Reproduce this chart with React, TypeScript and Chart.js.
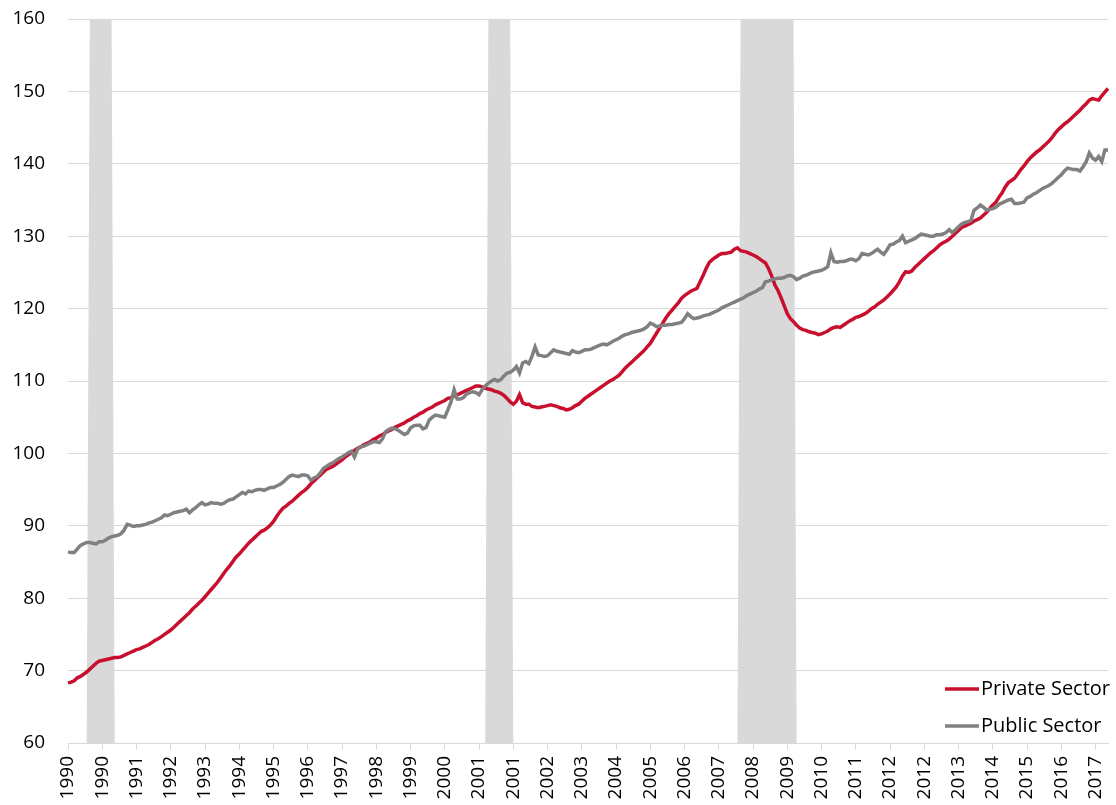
import React, { useEffect, useRef } from "react";
import { Chart, registerables } from "chart.js";

Chart.register(...registerables);

// Monthly index values, Jan 1990 – Nov 2017 (one row per year)
const privateSector = [
  68.3, 68.4, 68.6, 69.0, 69.2, 69.5, 69.8, 70.2, 70.6, 71.0, 71.3, 71.4,
  71.5, 71.6, 71.7, 71.8, 71.8, 71.9, 72.1, 72.3, 72.5, 72.7, 72.9, 73.0,
  73.2, 73.4, 73.6, 73.9, 74.2, 74.4, 74.7, 75.0, 75.3, 75.6, 76.0, 76.4,
  76.8, 77.2, 77.6, 78.0, 78.5, 78.9, 79.3, 79.7, 80.2, 80.7, 81.2, 81.7,
  82.2, 82.8, 83.4, 84.0, 84.5, 85.1, 85.7, 86.1, 86.6, 87.1, 87.6, 88.0,
  88.4, 88.8, 89.2, 89.4, 89.7, 90.1, 90.6, 91.3, 91.9, 92.4, 92.7, 93.1,
  93.4, 93.8, 94.2, 94.6, 94.9, 95.3, 95.8, 96.2, 96.6, 97.0, 97.4, 97.8,
  98.0, 98.2, 98.5, 98.8, 99.1, 99.5, 99.8, 100.1, 100.4, 100.7, 100.9, 101.2,
  101.4, 101.6, 101.9, 102.1, 102.4, 102.6, 102.9, 103.1, 103.3, 103.6, 103.8, 104.0,
  104.2, 104.5, 104.7, 105.0, 105.2, 105.5, 105.7, 106.0, 106.2, 106.4, 106.7, 106.9,
  107.1, 107.3, 107.6, 107.7, 107.9, 108.1, 108.3, 108.5, 108.7, 108.9, 109.1, 109.3,
  109.3, 109.2, 109.0, 108.9, 108.8, 108.6, 108.5, 108.3, 108.0, 107.6, 107.1, 106.8,
  107.2, 108.1, 107.0, 106.8, 106.8, 106.5, 106.4, 106.3, 106.4, 106.5, 106.6, 106.7,
  106.6, 106.5, 106.3, 106.2, 106.0, 106.1, 106.3, 106.6, 106.8, 107.2, 107.6, 107.9,
  108.2, 108.5, 108.8, 109.1, 109.4, 109.7, 110.0, 110.2, 110.5, 110.8, 111.3, 111.8,
  112.2, 112.6, 113.0, 113.4, 113.8, 114.2, 114.7, 115.2, 115.9, 116.6, 117.3, 118.0,
  118.7, 119.3, 119.8, 120.3, 120.8, 121.4, 121.8, 122.1, 122.4, 122.6, 122.8, 123.7,
  124.6, 125.6, 126.4, 126.8, 127.1, 127.4, 127.6, 127.6, 127.7, 127.8, 128.2, 128.4,
  128.0, 127.9, 127.8, 127.6, 127.4, 127.2, 126.9, 126.6, 126.3, 125.5, 124.5, 123.3,
  122.5, 121.5, 120.4, 119.3, 118.6, 118.2, 117.7, 117.3, 117.1, 117.0, 116.8, 116.7,
  116.6, 116.4, 116.5, 116.7, 116.9, 117.2, 117.4, 117.5, 117.4, 117.7, 118.0, 118.3,
  118.5, 118.8, 118.9, 119.1, 119.3, 119.6, 120.0, 120.2, 120.6, 120.9, 121.2, 121.6,
  122.0, 122.5, 123.0, 123.7, 124.5, 125.1, 125.0, 125.2, 125.7, 126.1, 126.5, 126.9,
  127.3, 127.7, 128.0, 128.4, 128.8, 129.1, 129.3, 129.6, 130.0, 130.4, 130.8, 131.2,
  131.4, 131.6, 131.8, 132.1, 132.3, 132.5, 132.9, 133.3, 133.8, 134.3, 134.7, 135.4,
  136.0, 136.8, 137.4, 137.7, 138.0, 138.6, 139.2, 139.7, 140.3, 140.8, 141.2, 141.6,
  141.9, 142.3, 142.7, 143.1, 143.6, 144.2, 144.7, 145.1, 145.5, 145.8, 146.2, 146.6,
  147.0, 147.4, 147.9, 148.3, 148.8, 149.0, 148.9, 148.8, 149.4, 149.9, 150.4,
];

const publicSector = [
  86.4, 86.3, 86.3, 86.8, 87.3, 87.5, 87.7, 87.7, 87.6, 87.5, 87.8, 87.8,
  88.0, 88.3, 88.5, 88.6, 88.7, 88.9, 89.4, 90.2, 90.1, 89.9, 90.0, 90.0,
  90.1, 90.2, 90.4, 90.5, 90.7, 90.9, 91.1, 91.5, 91.4, 91.6, 91.8, 91.9,
  92.0, 92.1, 92.3, 91.8, 92.2, 92.5, 92.9, 93.2, 92.9, 93.0, 93.2, 93.1,
  93.1, 93.0, 93.1, 93.4, 93.6, 93.7, 94.0, 94.3, 94.6, 94.4, 94.8, 94.7,
  94.9, 95.0, 95.0, 94.9, 95.1, 95.3, 95.3, 95.5, 95.7, 96.0, 96.4, 96.8,
  97.0, 96.9, 96.8, 97.0, 97.0, 96.9, 96.3, 96.6, 96.8, 97.3, 97.9, 98.2,
  98.5, 98.7, 99.0, 99.3, 99.5, 99.8, 100.1, 100.3, 99.5, 100.6, 100.9, 101.0,
  101.2, 101.4, 101.6, 101.6, 101.5, 102.0, 103.0, 103.3, 103.5, 103.4, 103.2, 102.9,
  102.6, 102.8, 103.5, 103.8, 103.9, 103.9, 103.4, 103.6, 104.6, 105.0, 105.3, 105.2,
  105.1, 105.0, 106.0, 107.1, 108.8, 107.5, 107.5, 107.7, 108.2, 108.4, 108.5, 108.4,
  108.1, 108.8, 109.3, 109.7, 110.0, 110.2, 110.0, 110.2, 110.7, 111.1, 111.2, 111.5,
  112.0, 111.1, 112.5, 112.7, 112.4, 113.4, 114.7, 113.6, 113.5, 113.4, 113.5, 113.9,
  114.3, 114.1, 114.0, 113.9, 113.8, 113.7, 114.2, 114.0, 113.9, 114.1, 114.3, 114.3,
  114.4, 114.6, 114.8, 115.0, 115.1, 115.0, 115.2, 115.5, 115.7, 115.9, 116.2, 116.4,
  116.5, 116.7, 116.8, 116.9, 117.0, 117.2, 117.5, 118.0, 117.8, 117.5, 117.6, 117.7,
  117.7, 117.8, 117.8, 117.9, 118.0, 118.1, 118.6, 119.3, 118.9, 118.6, 118.7, 118.8,
  119.0, 119.1, 119.2, 119.4, 119.6, 119.8, 120.1, 120.3, 120.5, 120.7, 120.9, 121.1,
  121.3, 121.5, 121.8, 122.0, 122.2, 122.4, 122.7, 122.9, 123.7, 123.8, 124.0, 124.1,
  124.2, 124.2, 124.3, 124.5, 124.6, 124.4, 124.0, 124.2, 124.5, 124.6, 124.8, 125.0,
  125.1, 125.2, 125.3, 125.5, 125.8, 127.7, 126.5, 126.4, 126.5, 126.5, 126.6, 126.8,
  126.8, 126.6, 126.9, 127.6, 127.5, 127.4, 127.6, 127.9, 128.2, 127.8, 127.5, 128.1,
  128.8, 128.9, 129.2, 129.4, 130.0, 129.1, 129.3, 129.5, 129.7, 130.0, 130.3, 130.2,
  130.1, 130.0, 130.0, 130.2, 130.2, 130.3, 130.5, 130.9, 130.5, 130.9, 131.3, 131.7,
  131.9, 132.0, 132.2, 133.6, 133.9, 134.3, 134.0, 133.6, 133.7, 133.8, 134.0, 134.4,
  134.6, 134.8, 135.0, 135.1, 134.5, 134.5, 134.6, 134.7, 135.3, 135.5, 135.8, 136.0,
  136.3, 136.6, 136.8, 137.0, 137.3, 137.7, 138.1, 138.5, 139.0, 139.4, 139.3, 139.2,
  139.2, 139.0, 139.6, 140.3, 141.5, 140.8, 140.5, 141.0, 140.3, 141.9, 141.9,
];

// Recession periods (first and last shaded month)
const recessions: [string, string][] = [
  ["1990-08", "1991-03"],
  ["2001-04", "2001-11"],
  ["2008-01", "2009-06"],
];

const startYear = 1990;
const monthLabels = privateSector.map(
  (_, i) => `${startYear + Math.floor(i / 12)}-${String((i % 12) + 1).padStart(2, "0")}`
);
const labelEvery = 11;

const yMin = 60;
const yMax = 160;

const RED = "#C8102E";
const GRAY = "#808080";
const FONT = "'Open Sans', sans-serif";

const seriesNames = ["Private Sector", "Public Sector"];

export default function App() {
  const ref = useRef<HTMLCanvasElement | null>(null);

  useEffect(() => {
    if (!ref.current) return;
    const band = monthLabels.map((m) =>
      recessions.some(([a, b]) => m >= a && m <= b) ? yMax : yMin
    );

    const legendPlugin = {
      id: "cornerLegend",
      afterDraw(chart: any) {
        const ctx = chart.ctx;
        const items = [
          { name: seriesNames[0], color: RED, y: 689 },
          { name: seriesNames[1], color: GRAY, y: 726 },
        ];
        ctx.save();
        ctx.font = `20px ${FONT}`;
        ctx.textBaseline = "middle";
        ctx.textAlign = "left";
        items.forEach((it) => {
          ctx.strokeStyle = it.color;
          ctx.lineWidth = 3.5;
          ctx.beginPath();
          ctx.moveTo(945, it.y);
          ctx.lineTo(979, it.y);
          ctx.stroke();
          ctx.fillStyle = "#000";
          ctx.fillText(it.name, 981, it.y);
        });
        ctx.restore();
      },
    };

    const chart = new Chart(ref.current, {
      type: "line",
      data: {
        labels: monthLabels,
        datasets: [
          {
            label: seriesNames[1],
            data: publicSector,
            borderColor: GRAY,
            borderWidth: 3.5,
            pointRadius: 0,
            tension: 0,
            fill: false,
          },
          {
            label: seriesNames[0],
            data: privateSector,
            borderColor: RED,
            borderWidth: 3.5,
            pointRadius: 0,
            tension: 0,
            fill: false,
          },
          {
            label: "Recession",
            data: band,
            borderWidth: 0,
            borderColor: "rgba(0,0,0,0)",
            backgroundColor: "#d9d9d9",
            pointRadius: 0,
            tension: 0,
            fill: "start",
          },
        ],
      },
      options: {
        animation: false,
        responsive: true,
        maintainAspectRatio: false,
        layout: { padding: { top: 19, right: 8, bottom: 0, left: 0 } },
        plugins: {
          legend: { display: false },
          tooltip: { enabled: false },
        },
        scales: {
          x: {
            type: "category",
            grid: {
              drawOnChartArea: false,
              drawTicks: true,
              tickLength: 7,
              color: "#d9d9d9",
            },
            border: { display: true, color: "#d9d9d9" },
            ticks: {
              autoSkip: false,
              maxRotation: 90,
              minRotation: 90,
              padding: 6,
              color: "#000",
              font: { family: FONT, size: 19 },
              callback: (_v: any, i: number) =>
                i % labelEvery === 0 ? monthLabels[i].slice(0, 4) : null,
            },
            afterFit: (s: any) => {
              s.height = 62;
              s.paddingLeft = 0;
              s.paddingRight = 0;
            },
          },
          y: {
            min: yMin,
            max: yMax,
            grid: { color: "#d9d9d9", drawTicks: false },
            border: { display: false },
            ticks: {
              stepSize: 10,
              padding: 23,
              color: "#000",
              font: { family: FONT, size: 19 },
            },
            afterFit: (s: any) => {
              s.width = 68;
              s.paddingTop = 0;
              s.paddingBottom = 0;
            },
          },
        },
      },
      plugins: [legendPlugin],
    });
    return () => chart.destroy();
  }, []);

  return (
    <div style={{ position: "absolute", left: 0, top: 0, width: 1116, height: 805 }}>
      <canvas ref={ref} />
    </div>
  );
}
